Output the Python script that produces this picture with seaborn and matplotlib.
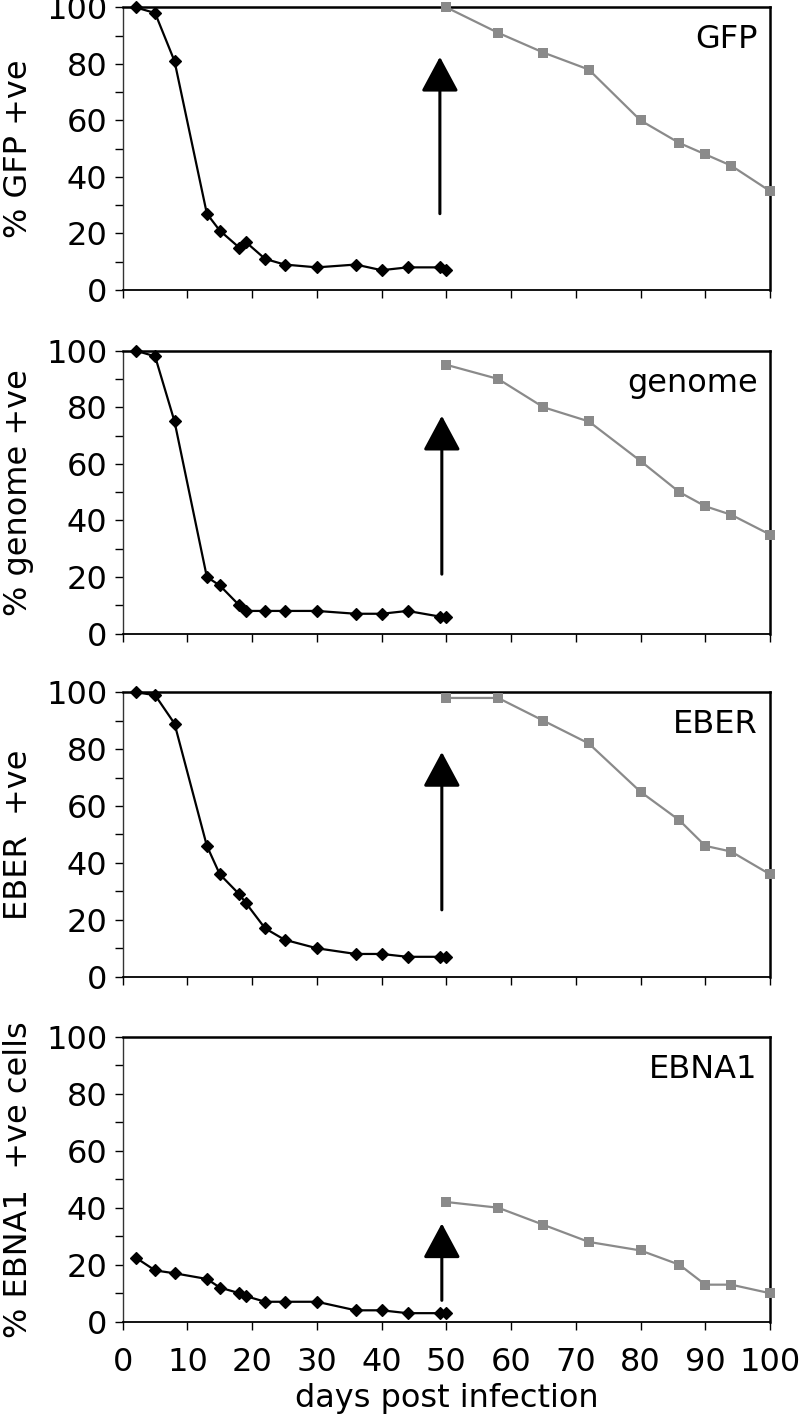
import matplotlib
matplotlib.use("Agg")
import matplotlib.pyplot as plt
import seaborn as sns
import numpy as np
import pandas as pd
from matplotlib.ticker import MultipleLocator

# ---- data ----
days_early = [2, 5, 8, 13, 15, 18, 19, 22, 25, 30, 36, 40, 44, 49, 50]
days_late = [50, 58, 65, 72, 80, 86, 90, 94, 100]

gfp_early = [100, 98, 81, 27, 21, 15, 17, 11, 9, 8, 9, 7, 8, 8, 7]
gfp_late = [100, 91, 84, 78, 60, 52, 48, 44, 35]

genome_early = [100, 98, 75, 20, 17, 10, 8, 8, 8, 8, 7, 7, 8, 6, 6]
genome_late = [95, 90, 80, 75, 61, 50, 45, 42, 35]

eber_early = [100, 99, 89, 46, 36, 29, 26, 17, 13, 10, 8, 8, 7, 7, 7]
eber_late = [98, 98, 90, 82, 65, 55, 46, 44, 36]

ebna1_early = [22.5, 18, 17, 15, 12, 10, 9, 7, 7, 7, 4, 4, 3, 3, 3]
ebna1_late = [42, 40, 34, 28, 25, 20, 13, 13, 10]

panel_names = ["GFP", "genome", "EBER", "EBNA1"]
y_labels = ["% GFP +ve", "% genome +ve", "EBER  +ve", "% EBNA1  +ve cells"]
early_series = [gfp_early, genome_early, eber_early, ebna1_early]
late_series = [gfp_late, genome_late, eber_late, ebna1_late]

# arrows (day, tail value, tip value)
arrow_x = [49, 49.3, 49.3, 49.3]
arrow_tail = [27, 21, 23.5, 7.5]
arrow_tip = [82.5, 77, 79, 34.5]

x_ticks = list(range(0, 101, 10))
y_ticks = list(range(0, 101, 20))
x_label = "days post infection"

# ---- style ----
sns.set_theme(style="white")
plt.rcParams["font.family"] = ["DejaVu Sans"]
for k in ["text.color", "axes.labelcolor", "xtick.color", "ytick.color"]:
    plt.rcParams[k] = "black"
FS = 23

fig = plt.figure(figsize=(8, 14.18), dpi=100)
left, right = 0.1534, 0.9625
bounds = [(0.7955, 0.9948), (0.5532, 0.7527), (0.3112, 0.5118), (0.0679, 0.2689)]

for i in range(4):
    b, t = bounds[i]
    ax = fig.add_axes([left, b, right - left, t - b])
    df_e = pd.DataFrame({"day": days_early, "val": early_series[i]})
    df_l = pd.DataFrame({"day": days_late, "val": late_series[i]})
    sns.lineplot(data=df_l, x="day", y="val", ax=ax, color="#8a8a8a",
                 marker="s", markersize=6.5, markeredgewidth=0,
                 linewidth=1.6, clip_on=False, zorder=3)
    sns.lineplot(data=df_e, x="day", y="val", ax=ax, color="black",
                 marker="D", markersize=6, markeredgewidth=0.9,
                 markeredgecolor="black", linewidth=1.6, clip_on=False, zorder=4)

    ax.set_xlim(0, 100)
    ax.set_ylim(0, 100)
    ax.set_xticks(x_ticks)
    ax.set_yticks(y_ticks)
    ax.yaxis.set_minor_locator(MultipleLocator(10))
    ax.tick_params(axis="y", which="both", direction="out", length=6,
                   width=1, color="black", left=True, labelsize=FS, pad=5,
                   labelcolor="black")
    ax.tick_params(axis="x", which="major", direction="out", length=6,
                   width=1, color="black", bottom=True, labelsize=FS, pad=12,
                   labelcolor="black")
    if i < 3:
        ax.tick_params(axis="x", labelbottom=False)
        ax.set_xlabel("")
    else:
        ax.set_xlabel(x_label, fontsize=FS, labelpad=4, color="black")
    ax.set_ylabel(y_labels[i], fontsize=FS, labelpad=9, color="black")

    for side in ["top", "right", "bottom"]:
        ax.spines[side].set_visible(True)
        ax.spines[side].set_color("black")
        ax.spines[side].set_linewidth(1.8)
    ax.spines["bottom"].set_linewidth(1.3)
    ax.spines["left"].set_visible(True)
    ax.spines["left"].set_color("#333333")
    ax.spines["left"].set_linewidth(1.0)

    ax.text(0.981, 0.94, panel_names[i], transform=ax.transAxes,
            ha="right", va="top", fontsize=FS, color="black")

    ax.annotate("", xy=(arrow_x[i], arrow_tip[i]), xytext=(arrow_x[i], arrow_tail[i]),
                arrowprops=dict(arrowstyle="-|>,head_length=1.08,head_width=0.58",
                                mutation_scale=20, lw=2.2, color="black",
                                shrinkA=0, shrinkB=0))

fig.savefig("out.png", dpi=100)
